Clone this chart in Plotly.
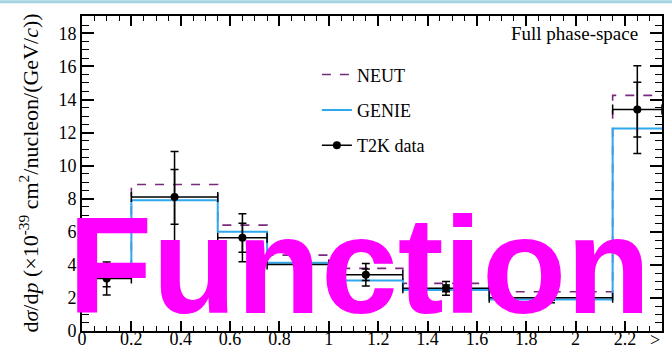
import plotly.graph_objects as go

# ---- data ----
bin_edges = [0.0, 0.2, 0.55, 0.75, 1.0, 1.3, 1.65, 2.15, 2.35]
neut = [3.48, 8.86, 6.40, 4.59, 3.79, 2.88, 2.37, 14.25]
genie = [3.30, 7.90, 6.00, 4.12, 3.05, 2.48, 1.91, 12.24]
t2k = [3.18, 8.11, 5.64, 4.02, 3.40, 2.58, 2.01, 13.39]
t2k_err_total = [1.00, 2.75, 1.45, 0.60, 0.68, 0.42, 0.30, 2.65]
t2k_err_stat = [0.50, 1.65, 0.88, 0.35, 0.35, 0.20, 0.15, 1.66]
x_tickvals = [0, 0.2, 0.4, 0.6, 0.8, 1.0, 1.2, 1.4, 1.6, 1.8, 2.0, 2.2]
x_ticktext = ["0", "0.2", "0.4", "0.6", "0.8", "1", "1.2", "1.4", "1.6", "1.8", "2", "2.2"]
y_tickvals = [0, 2, 4, 6, 8, 10, 12, 14, 16, 18]

centers = [(a + b) / 2 for a, b in zip(bin_edges[:-1], bin_edges[1:])]
halfw = [(b - a) / 2 for a, b in zip(bin_edges[:-1], bin_edges[1:])]

SERIF = "Liberation Serif"

fig = go.Figure()

fig.add_trace(go.Scatter(
    x=bin_edges, y=neut + [neut[-1]], mode="lines", line_shape="hv",
    line=dict(color="#7a2a7e", width=1.6, dash="dash"), name="NEUT",
    legendgroup="a"))
fig.add_trace(go.Scatter(
    x=bin_edges, y=genie + [genie[-1]], mode="lines", line_shape="hv",
    line=dict(color="#2fa8ee", width=2), name="GENIE", legendgroup="b"))
# inner (statistical) error caps
fig.add_trace(go.Scatter(
    x=centers, y=t2k, mode="markers", marker=dict(size=1, color="black", opacity=0),
    error_y=dict(type="data", array=t2k_err_stat, color="black", thickness=1.5, width=4),
    showlegend=False, hoverinfo="skip"))
fig.add_trace(go.Scatter(
    x=centers, y=t2k, mode="markers", marker=dict(size=8, color="black"),
    error_x=dict(type="data", array=halfw, color="black", thickness=1.5, width=5),
    error_y=dict(type="data", array=t2k_err_total, color="black", thickness=1.5, width=4),
    name="T2K data", showlegend=False))
# legend entry for the data (line + marker)
fig.add_trace(go.Scatter(
    x=[None], y=[None], mode="lines+markers", marker=dict(size=8, color="black"),
    line=dict(color="black", width=1.5), name="T2K data", legendgroup="c"))

fig.add_annotation(text="Full phase-space", x=0.962, y=0.945, xref="paper", yref="paper",
                   xanchor="right", yanchor="middle", showarrow=False,
                   font=dict(family=SERIF, size=19, color="black"))
fig.add_annotation(text=">", x=2.32, y=-0.028, xref="x", yref="paper",
                   xanchor="center", yanchor="middle", showarrow=False,
                   font=dict(family=SERIF, size=18, color="black"))
fig.add_annotation(text="d<i>σ</i>/d<i>p</i> (×10<sup>-39</sup> cm<sup>2</sup>/nucleon/(GeV/<i>c</i>))",
                   x=-0.093, y=0.5, xref="paper", yref="paper", textangle=-90,
                   xanchor="center", yanchor="middle", showarrow=False,
                   font=dict(family=SERIF, size=22, color="black"))
fig.add_annotation(text="Function", x=0.478, y=-0.04, xref="paper", yref="paper",
                   xanchor="center", yanchor="bottom", showarrow=False,
                   font=dict(family="Liberation Sans", size=138, color="#ff00ff",
                             weight="bold"))

fig.add_shape(type="line", xref="paper", yref="paper", x0=-0.2, x1=1.2,
              y0=1.045, y1=1.045, line=dict(color="#a3d2e3", width=3))

fig.update_layout(
    width=672, height=354,
    margin=dict(l=82, r=10, t=16, b=23),
    paper_bgcolor="white", plot_bgcolor="white",
    showlegend=True,
    legend=dict(x=0.405, y=0.872, xanchor="left", yanchor="top",
                font=dict(family=SERIF, size=18, color="black"),
                bgcolor="rgba(0,0,0,0)", tracegroupgap=9, traceorder="grouped"),
    font=dict(family=SERIF, size=18, color="black"),
)
fig.update_xaxes(range=[0, 2.35], tickvals=x_tickvals, ticktext=x_ticktext,
                 automargin=False, ticklabelstandoff=-10,
                 ticks="inside", ticklen=10, tickwidth=1.5, tickcolor="black",
                 minor=dict(dtick=0.05, tick0=0, ticks="inside", ticklen=5,
                            tickwidth=1.2, tickcolor="black"),
                 showline=True, linecolor="black", linewidth=2, mirror="ticks",
                 showgrid=False, zeroline=False,
                 tickfont=dict(family=SERIF, size=18, color="black"))
fig.update_yaxes(range=[0, 19.05], tickvals=y_tickvals,
                 automargin=False,
                 ticks="inside", ticklen=12, tickwidth=1.5, tickcolor="black",
                 minor=dict(dtick=0.5, tick0=0, ticks="inside", ticklen=7,
                            tickwidth=1.2, tickcolor="black"),
                 showline=True, linecolor="black", linewidth=2, mirror="ticks",
                 showgrid=False, zeroline=False,
                 tickfont=dict(family=SERIF, size=18, color="black"))

fig.write_html("out.html")
